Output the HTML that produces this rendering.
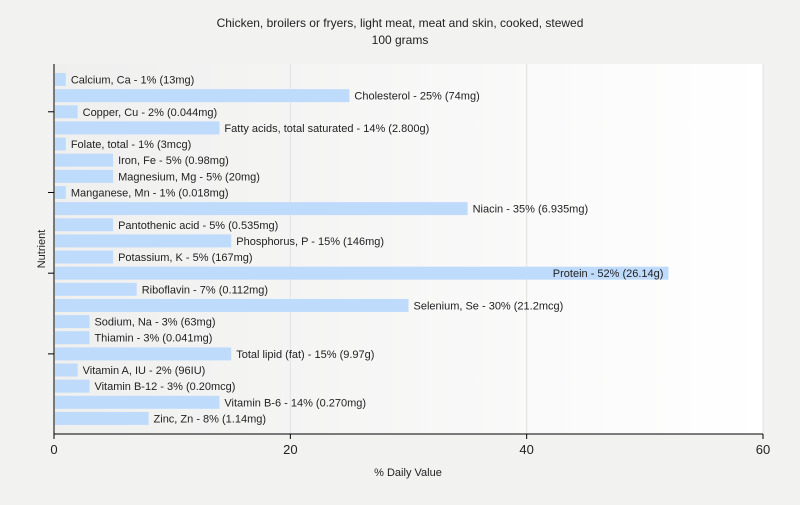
<!DOCTYPE html>
<html><head><meta charset="utf-8"><style>
body{margin:0;background:#f2f2f1;font-family:"Liberation Sans",Arial,sans-serif;}
</style></head><body>
<svg width="800" height="500" xmlns="http://www.w3.org/2000/svg" font-family="Liberation Sans, Arial, sans-serif">
<defs><linearGradient id="bg" x1="0" x2="1" y1="0" y2="0"><stop offset="0" stop-color="#efefee"/><stop offset="1" stop-color="#ffffff"/></linearGradient></defs>
<rect width="800" height="500" fill="#f2f2f1"/>
<text x="400" y="27" text-anchor="middle" font-size="12" fill="#222">Chicken, broilers or fryers, light meat, meat and skin, cooked, stewed</text>
<text x="400" y="44" text-anchor="middle" font-size="12" fill="#222">100 grams</text>
<rect x="54" y="64" width="709" height="370" fill="url(#bg)"/>
<g id="grid"></g><g id="bars"></g><g id="axes"></g>
<text x="408" y="476" text-anchor="middle" font-size="11" fill="#222">% Daily Value</text>
<text transform="translate(45,249) rotate(-90)" text-anchor="middle" font-size="11" fill="#222">Nutrient</text>
</svg>
<script>
const categories=["Calcium, Ca - 1% (13mg)","Cholesterol - 25% (74mg)","Copper, Cu - 2% (0.044mg)","Fatty acids, total saturated - 14% (2.800g)","Folate, total - 1% (3mcg)","Iron, Fe - 5% (0.98mg)","Magnesium, Mg - 5% (20mg)","Manganese, Mn - 1% (0.018mg)","Niacin - 35% (6.935mg)","Pantothenic acid - 5% (0.535mg)","Phosphorus, P - 15% (146mg)","Potassium, K - 5% (167mg)","Protein - 52% (26.14g)","Riboflavin - 7% (0.112mg)","Selenium, Se - 30% (21.2mcg)","Sodium, Na - 3% (63mg)","Thiamin - 3% (0.041mg)","Total lipid (fat) - 15% (9.97g)","Vitamin A, IU - 2% (96IU)","Vitamin B-12 - 3% (0.20mcg)","Vitamin B-6 - 14% (0.270mg)","Zinc, Zn - 8% (1.14mg)"];
const values=[1,25,2,14,1,5,5,1,35,5,15,5,52,7,30,3,3,15,2,3,14,8];
const xTicks=[0,20,40,60];
const NS="http://www.w3.org/2000/svg";
const x0=54,x1=763,y0=64,y1=434,xMax=60;
const xs=v=>x0+(v/xMax)*(x1-x0);
const pitch=16.14,barTop=73,barH=13;
const ys=i=>barTop+i*pitch;
function mk(tag,attrs,parent){const e=document.createElementNS(NS,tag);for(const k in attrs)e.setAttribute(k,attrs[k]);document.getElementById(parent).appendChild(e);return e;}
xTicks.forEach(t=>{if(t>0){const g=mk('line',{x1:xs(t),x2:xs(t),y1:y0,y2:y1,stroke:'#e2e2e2'},'grid');

}
const tk=mk('line',{x1:xs(t),x2:xs(t),y1:y1,y2:y1+5,stroke:'#000'},'axes');


const tl=mk('text',{x:xs(t),y:y1+20,'text-anchor':'middle','font-size':13,fill:'#222'},'axes');tl.textContent=t;

});
values.forEach((v,i)=>{const r=mk('rect',{x:x0+1,y:ys(i),width:xs(v)-x0-1,height:barH,fill:'#bfdbfc'},'bars');


const inside=xs(v)+5+categories[i].length*6>x1;
const t=mk('text',{x:inside?xs(v)-5:xs(v)+5,y:ys(i)+10.5,'font-size':11,fill:'#222','text-anchor':inside?'end':'start'},'bars');t.textContent=categories[i];


if(i%5===2){const k=mk('line',{x1:x0-6,x2:x0,y1:ys(i)+barH/2,y2:ys(i)+barH/2,stroke:'#000'},'axes');

}});
const ya=mk('line',{x1:x0,x2:x0,y1:y0,y2:y1,stroke:'#000'},'axes');


const xa=mk('line',{x1:x0,x2:x1,y1:y1,y2:y1,stroke:'#000'},'axes');


</script>
</body></html>
